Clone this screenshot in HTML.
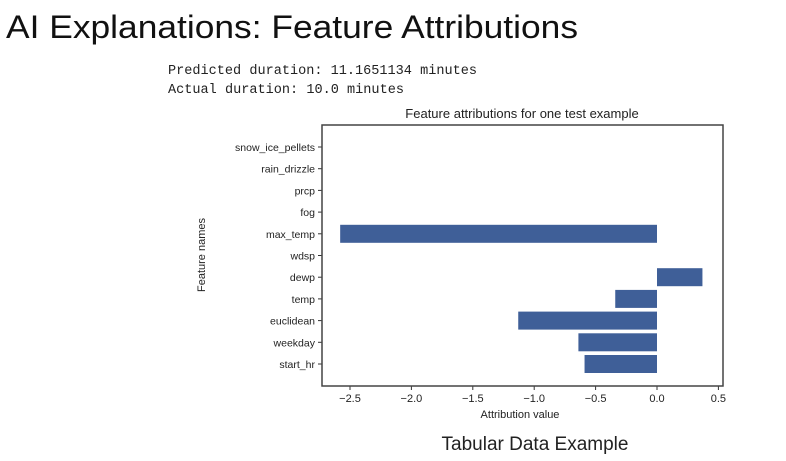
<!DOCTYPE html>
<html><head><meta charset="utf-8"><style>
html,body{margin:0;padding:0;background:#fff;}
svg{display:block;}
text{font-family:"Liberation Sans",sans-serif;}
</style></head><body>
<svg id="chart" width="786" height="461" viewBox="0 0 786 461" xmlns="http://www.w3.org/2000/svg">
<text x="6" y="38" font-size="32" fill="#111" textLength="572" lengthAdjust="spacingAndGlyphs">AI Explanations: Feature Attributions</text>
<text x="168" y="74" font-size="13.5" fill="#222" style="font-family:'Liberation Mono',monospace" textLength="309" lengthAdjust="spacingAndGlyphs">Predicted duration: 11.1651134 minutes</text>
<text x="168" y="93" font-size="13.5" fill="#222" style="font-family:'Liberation Mono',monospace" textLength="236" lengthAdjust="spacingAndGlyphs">Actual duration: 10.0 minutes</text>
<text x="522" y="118" font-size="13" fill="#222" text-anchor="middle">Feature attributions for one test example</text>
<g id="plot"></g>
<text x="520" y="418" font-size="11" fill="#222" text-anchor="middle">Attribution value</text>
<text x="0" y="0" font-size="11" fill="#222" text-anchor="middle" transform="translate(205,255) rotate(-90)">Feature names</text>
<text x="535" y="450" font-size="19" fill="#222" text-anchor="middle">Tabular Data Example</text>
</svg>
<script>
const features = ["start_hr","weekday","euclidean","temp","dewp","wdsp","max_temp","fog","prcp","rain_drizzle","snow_ice_pellets"];
const values = [-0.59,-0.64,-1.13,-0.34,0.37,0,-2.58,0,0,0,0];
const xTicks = [-2.5,-2.0,-1.5,-1.0,-0.5,0.0,0.5];
const xTickLabels = ["\u22122.5","\u22122.0","\u22121.5","\u22121.0","\u22120.5","0.0","0.5"];

const NS="http://www.w3.org/2000/svg";
const L=322,R=723,T=125,B=386;
const x = v => 657 + v*122.8;
const y = i => 364 - i*21.7;
const g=document.getElementById('plot');
function mk(tag,attrs){const e=document.createElementNS(NS,tag);for(const k in attrs)e.setAttribute(k,attrs[k]);g.appendChild(e);return e;}
features.forEach((f,i)=>{
  const v=values[i];
  if(v!==0){
    const r=mk('rect',{x:Math.min(x(0),x(v)),y:y(i)-9,width:Math.abs(x(v)-x(0)),height:18,fill:'#3f5f98'});
    
    
  }
  const t=mk('line',{x1:L-4,x2:L,y1:y(i),y2:y(i),stroke:'#333','stroke-width':1});
  
  
  const lb=mk('text',{x:L-7,y:y(i)+4,'font-size':10.5,fill:'#222','text-anchor':'end'});
  lb.textContent=f;
  
  
});
xTicks.forEach((v,i)=>{
  const t=mk('line',{x1:x(v),x2:x(v),y1:B,y2:B+4,stroke:'#333','stroke-width':1});
  
  
  const lb=mk('text',{x:x(v),y:B+16,'font-size':11,fill:'#222','text-anchor':'middle'});
  lb.textContent=xTickLabels[i];
  
  
});
const frame=mk('rect',{x:L,y:T,width:R-L,height:B-T,fill:'none',stroke:'#444','stroke-width':1.5});


</script>
</body></html>
